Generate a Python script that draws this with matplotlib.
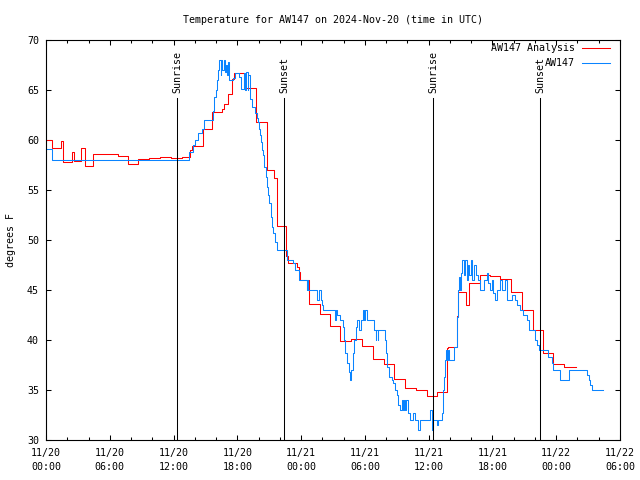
import matplotlib
matplotlib.use("Agg")
import matplotlib.pyplot as plt
import matplotlib.dates as mdates
from matplotlib.lines import Line2D
import pandas as pd

start = pd.Timestamp("2024-11-20 00:00")

# AW147 Analysis (hours since 11/20 00:00 UTC, deg F)
red_h = [0.00, 0.54, 1.38, 1.63, 2.42, 2.66, 3.32, 3.64, 4.39, 6.80,
         7.69, 8.68, 9.68, 10.72, 11.73, 12.77, 13.55, 13.73, 14.74, 15.64,
         16.59, 16.77, 17.15, 17.53, 17.71, 18.65, 19.73, 20.76, 21.45, 21.76,
         22.58, 22.77, 23.64, 23.77, 23.92, 24.71, 25.78, 26.72, 27.70, 28.65,
         29.70, 30.76, 31.80, 32.74, 33.77, 34.81, 35.81, 36.74, 37.68, 37.82,
         38.64, 38.79, 39.51, 39.82, 40.83, 41.77, 42.71, 43.74, 44.75, 45.79,
         46.78, 47.72, 48.76, 49.86]
red_t = [60.0, 59.2, 59.9, 57.8, 58.8, 57.9, 59.2, 57.4, 58.6, 58.4,
         57.6, 58.1, 58.2, 58.3, 58.2, 58.3, 59.0, 59.4, 61.1, 62.8,
         63.1, 63.6, 64.6, 66.1, 66.7, 65.2, 61.8, 57.0, 56.2, 51.4,
         48.4, 47.7, 47.3, 46.8, 46.0, 43.6, 42.6, 41.4, 39.9, 40.1,
         39.4, 38.1, 37.6, 36.1, 35.2, 35.0, 34.4, 34.8, 39.2, 39.3,
         42.4, 44.8, 43.5, 45.7, 46.5, 46.4, 46.1, 44.8, 43.0, 41.0,
         38.7, 37.6, 37.3, 37.3]

# AW147 observations
blue_h = [0.00, 0.54, 13.48, 13.80, 14.02, 14.33, 14.65, 14.86, 15.74, 15.83,
          15.96, 16.06, 16.15, 16.30, 16.42, 16.51, 16.60, 16.70, 16.84, 16.93,
          17.03, 17.12, 17.22, 17.56, 17.78, 18.18, 18.34, 18.65, 18.75, 18.86,
          18.96, 19.05, 19.16, 19.35, 19.66, 19.85, 19.97, 20.04, 20.13, 20.23,
          20.29, 20.44, 20.54, 20.67, 20.82, 20.91, 21.01, 21.14, 21.23, 21.38,
          21.54, 21.70, 22.64, 23.21, 23.42, 23.80, 24.53, 24.60, 24.68, 25.52,
          25.71, 25.84, 25.94, 26.09, 27.19, 27.28, 27.40, 27.66, 27.91, 28.03,
          28.16, 28.34, 28.48, 28.60, 28.72, 28.85, 28.97, 29.16, 29.29, 29.42,
          29.60, 29.85, 29.94, 30.04, 30.17, 30.86, 31.00, 31.09, 31.19, 31.28,
          31.89, 31.98, 32.11, 32.30, 32.52, 32.67, 32.83, 32.99, 33.14, 33.30,
          33.46, 33.58, 33.68, 33.82, 33.91, 34.08, 34.24, 34.55, 34.71, 35.02,
          35.18, 36.12, 36.28, 36.43, 36.75, 36.85, 37.22, 37.38, 37.47, 37.53,
          37.63, 37.69, 37.79, 37.94, 38.41, 38.64, 38.73, 38.79, 38.88, 38.97,
          39.04, 39.11, 39.16, 39.28, 39.42, 39.56, 39.70, 39.84, 39.98, 40.12,
          40.26, 40.41, 40.67, 40.83, 41.23, 41.46, 41.58, 41.77, 41.93, 42.08,
          42.24, 42.40, 42.71, 42.90, 43.18, 43.34, 43.87, 44.12, 44.28, 44.59,
          44.90, 45.22, 45.47, 46.00, 46.22, 46.41, 47.25, 47.57, 47.72, 48.35,
          49.20, 50.92, 51.08, 51.18, 51.39, 52.37]
blue_t = [59.1, 58.0, 58.8, 59.5, 60.0, 60.7, 61.1, 62.0, 62.9, 64.3,
          65.0, 66.0, 67.0, 68.0, 66.5, 68.0, 67.0, 68.0, 66.8, 67.5,
          66.5, 67.8, 66.0, 66.2, 66.7, 66.3, 65.1, 66.7, 65.0, 66.8,
          65.0, 66.5, 64.1, 63.3, 62.7, 62.2, 61.8, 61.1, 60.5, 59.8,
          59.0, 58.5, 57.3, 56.3, 55.3, 54.5, 53.7, 52.3, 51.3, 50.7,
          49.8, 49.0, 48.0, 47.7, 47.0, 46.0, 45.0, 46.0, 45.0, 44.0,
          45.0, 44.0, 43.5, 43.0, 42.0, 43.0, 42.5, 42.0, 41.3, 40.0,
          38.7, 37.7, 36.8, 36.0, 37.0, 38.7, 40.0, 41.3, 42.0, 41.0,
          42.0, 43.0, 42.0, 43.0, 42.0, 41.0, 40.0, 41.0, 40.0, 41.0,
          40.0, 38.7, 37.3, 36.3, 36.0, 35.7, 35.0, 34.5, 33.5, 33.0,
          34.0, 33.0, 34.0, 33.0, 34.0, 32.7, 32.0, 32.7, 32.0, 31.0,
          32.0, 33.0, 31.0, 32.0, 31.5, 32.0, 32.7, 35.0, 36.3, 38.0,
          39.0, 38.0, 39.0, 38.0, 39.3, 42.3, 44.0, 45.0, 46.3, 45.0,
          46.7, 47.7, 48.0, 46.5, 48.0, 46.0, 47.5, 46.5, 48.0, 46.0,
          47.5, 46.5, 46.0, 45.0, 46.0, 46.7, 45.7, 45.0, 46.0, 44.7,
          44.0, 45.0, 46.0, 45.0, 46.0, 44.0, 44.5, 44.0, 43.5, 43.0,
          42.5, 42.0, 41.0, 40.0, 39.5, 39.0, 38.3, 37.7, 37.0, 36.0,
          37.0, 36.5, 36.0, 35.5, 35.0, 35.0]

sun_times = ["2024-11-20 12:21", "2024-11-20 22:25", "2024-11-21 12:26", "2024-11-21 22:28"]
sun_labels = ["Sunrise", "Sunset", "Sunrise", "Sunset"]

assert len(red_h) == len(red_t) and len(blue_h) == len(blue_t)

FONT = "DejaVu Sans Mono"
FS = 7.2
LW = 0.75
plt.rcParams['font.family'] = [FONT]

red_x = start + pd.to_timedelta(red_h, unit="h")
blue_x = start + pd.to_timedelta(blue_h, unit="h")

fig = plt.figure(figsize=(6.4, 4.8), dpi=100)
ax = fig.add_axes([46/640, 40/480, 574/640, 400/480])

ax.plot(red_x, red_t, drawstyle="steps-post", color="#ff0000", lw=LW)
ax.plot(blue_x, blue_t, drawstyle="steps-post", color="#0a84ff", lw=LW)

for t, lab in zip(sun_times, sun_labels):
    ts = pd.Timestamp(t)
    ax.axvline(ts, ymin=0, ymax=0.855, color="black", lw=LW)
    ax.text(ts, 0.868, lab, transform=ax.get_xaxis_transform(), rotation=90,
            ha="center", va="bottom", fontsize=FS, family=FONT)

ax.set_xlim(start, start + pd.Timedelta(hours=54))
ax.set_ylim(30, 70)
ax.set_yticks(range(30, 71, 5))
ax.xaxis.set_major_locator(mdates.HourLocator(byhour=[0, 6, 12, 18]))
ax.xaxis.set_minor_locator(mdates.HourLocator(byhour=range(0, 24, 2)))
ax.xaxis.set_major_formatter(mdates.DateFormatter("%m/%d\n%H:%M"))

ax.tick_params(axis="both", which="both", direction="in", top=True, right=True,
               labelsize=FS, color="black")
ax.tick_params(axis="both", which="major", length=3.5, width=0.75)
ax.tick_params(axis="x", which="minor", length=2.5, width=0.75)
ax.tick_params(axis="x", which="major", pad=6)
ax.tick_params(axis="y", which="major", pad=5)
for s in ax.spines.values():
    s.set_linewidth(0.8)
    s.set_color("black")

ax.set_ylabel("degrees F", fontsize=FS, labelpad=8)

fig.text(333/640, 1 - 20/480, "Temperature for AW147 on 2024-Nov-20 (time in UTC)",
         ha="center", va="center", fontsize=FS, family=FONT)

# legend (gnuplot style: right-justified text, sample line to the right)
leg_items = [("AW147 Analysis", "#ff0000", 0.98), ("AW147", "#0a84ff", 0.9425)]
for lab, col, yy in leg_items:
    ax.text(0.9216, yy, lab, transform=ax.transAxes, ha="right", va="center",
            fontsize=FS, family=FONT)
    ax.add_line(Line2D([0.934, 0.983], [yy, yy], transform=ax.transAxes,
                       color=col, lw=LW, clip_on=False))

fig.canvas.draw()
for lbl in ax.get_xticklabels():
    lbl.set_linespacing(1.5)

fig.savefig("out.png", dpi=100)
